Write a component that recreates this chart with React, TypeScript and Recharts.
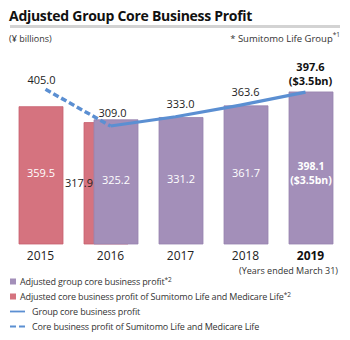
import React from 'react';
import { ComposedChart, Bar, Line, XAxis, YAxis, LabelList, Legend } from 'recharts';

const years = ['2015', '2016', '2017', '2018', '2019'];
const adjustedGroup = [null, 325.2, 331.2, 361.7, 398.1];
const adjustedSLM = [359.5, 317.9, null, null, null];
const groupCore = [null, 309.0, 333.0, 363.6, 397.6];
const coreSLM = [405.0, 309.0, null, null, null];
const adjustedGroupUsd = [null, null, null, null, '($3.5bn)'];
const groupCoreUsd = [null, null, null, null, '($3.5bn)'];
const highlightYear = '2019';

const title = 'Adjusted Group Core Business Profit';
const unitNote = '(¥ billions)';
const groupNote = '* Sumitomo Life Group';
const groupNoteSup = '*1';
const yearNote = '(Years ended March 31)';
const legendItems = [
  { label: 'Adjusted group core business profit', sup: '*2', kind: 'square', key: 'adjustedGroup' },
  { label: 'Adjusted core business profit of Sumitomo Life and Medicare Life', sup: '*2', kind: 'square', key: 'adjustedSLM' },
  { label: 'Group core business profit', sup: '', kind: 'line', key: 'groupCore' },
  { label: 'Core business profit of Sumitomo Life and Medicare Life', sup: '', kind: 'dash', key: 'coreSLM' },
];

const data = years.map((y, i) => ({
  year: y,
  adjustedGroup: adjustedGroup[i],
  adjustedSLM: adjustedSLM[i],
  groupCore: groupCore[i],
  coreSLM: coreSLM[i],
}));

const RED = '#d5737f';
const RED_EDGE = '#c8606e';
const PURPLE = '#a38fb9';
const PURPLE_EDGE = '#9883ae';
const BLUE = '#5b8fd2';
const FONT = '"Open Sans", sans-serif';
const TEXT = '#222';

const visualShift = (i: number) => (adjustedGroup[i] == null ? -5 : adjustedSLM[i] == null ? 5 : 0);

const YearTick = (props: any) => {
  const { x, y, payload } = props;
  const i = years.indexOf(payload.value);
  const bold = payload.value === highlightYear;
  return (
    <text x={x + visualShift(i)} y={y} dy={8} textAnchor="middle" fontFamily={FONT} fontSize={12}
      fontWeight={bold ? 700 : 400} fill={bold ? '#111' : TEXT}>
      {payload.value}
    </text>
  );
};

const RedLabel = (props: any) => {
  const { x, y, width, height, value } = props;
  if (value == null) return null;
  const i = adjustedSLM.indexOf(value);
  const cy = y + height / 2;
  if (adjustedGroup[i] != null) {
    return (
      <text x={x + 9} y={cy} dy={4} textAnchor="end" fontFamily={FONT} fontSize={11} fill={TEXT}>
        {value.toFixed(1)}
      </text>
    );
  }
  return (
    <text x={x + width / 2} y={cy} dy={2} textAnchor="middle" fontFamily={FONT} fontSize={11} fill="#fff">
      {value.toFixed(1)}
    </text>
  );
};

const PurpleLabel = (props: any) => {
  const { x, y, width, height, value } = props;
  if (value == null) return null;
  const i = adjustedGroup.indexOf(value);
  const cx = x + width / 2;
  const cy = y + height / 2;
  const usd = adjustedGroupUsd[i];
  if (usd) {
    return (
      <g>
        <text x={cx} y={cy + 2} textAnchor="middle" fontFamily={FONT} fontSize={10.5} fill="#fff" fontWeight={700}>
          {value.toFixed(1)}
        </text>
        <text x={cx} y={cy + 16} textAnchor="middle" fontFamily={FONT} fontSize={10.5} fill="#fff" fontWeight={700}>
          {usd}
        </text>
      </g>
    );
  }
  return (
    <text x={cx} y={cy} dy={2} textAnchor="middle" fontFamily={FONT} fontSize={11} fill="#fff">
      {value.toFixed(1)}
    </text>
  );
};

const DashLabel = (props: any) => {
  const { x, y, value } = props;
  if (value == null) return null;
  const i = coreSLM.indexOf(value);
  if (groupCore[i] != null) return null;
  return (
    <text x={x - 4} y={y - 5} textAnchor="middle" fontFamily={FONT} fontSize={11} fill={TEXT}>
      {value.toFixed(1)}
    </text>
  );
};

const SolidLabel = (props: any) => {
  const { x, y, value } = props;
  if (value == null) return null;
  const i = groupCore.indexOf(value);
  const cx = x + (adjustedSLM[i] != null ? 2 : 5);
  const usd = groupCoreUsd[i];
  if (usd) {
    return (
      <text textAnchor="middle" fontFamily={FONT} fontSize={11} fill="#111" fontWeight={700}>
        <tspan x={cx} y={y - 21}>{value.toFixed(1)}</tspan>
        <tspan x={cx} y={y - 7}>{usd}</tspan>
      </text>
    );
  }
  return (
    <text x={cx} y={y - 9} textAnchor="middle" fontFamily={FONT} fontSize={11} fill={TEXT}>
      {value.toFixed(1)}
    </text>
  );
};

const supStyle: React.CSSProperties = { fontSize: 6.5, verticalAlign: 'top', position: 'relative', top: -2, letterSpacing: 0 };

const LegendContent = () => (
  <div style={{ fontFamily: FONT, fontSize: 9, letterSpacing: -0.15, color: '#333', lineHeight: '15px' }}>
    {legendItems.map((it) => {
      const color = it.key === 'adjustedGroup' ? PURPLE : it.key === 'adjustedSLM' ? RED : BLUE;
      return (
        <div key={it.key} style={{ display: 'flex', alignItems: 'center', height: 15, whiteSpace: 'nowrap' }}>
          {it.kind === 'square' ? (
            <svg width={10} height={15} style={{ flex: 'none' }}>
              <rect x={0} y={4.5} width={6} height={6} fill={color} />
            </svg>
          ) : (
            <svg width={22} height={15} style={{ flex: 'none' }}>
              <line x1={0} x2={15} y1={7.5} y2={7.5} stroke={color} strokeWidth={1.8}
                strokeDasharray={it.kind === 'dash' ? '6 3' : undefined} />
            </svg>
          )}
          <span>
            {it.label}
            {it.sup && <sup style={supStyle}>{it.sup}</sup>}
          </span>
        </div>
      );
    })}
  </div>
);

export default function App() {
  return (
    <div style={{ position: 'absolute', left: 0, top: 0, width: 350, height: 340, background: '#fff', overflow: 'hidden' }}>
      <div style={{ position: 'absolute', left: 9, top: 6, fontFamily: FONT, fontWeight: 700, fontSize: 14, letterSpacing: -0.28, color: '#111', whiteSpace: 'nowrap' }}>
        {title}
      </div>
      <div style={{ position: 'absolute', left: 10, top: 25, width: 330, height: 3, background: '#d3d3d3' }} />
      <div style={{ position: 'absolute', left: 9, top: 32, fontFamily: FONT, fontSize: 9, color: '#333' }}>{unitNote}</div>
      <div style={{ position: 'absolute', right: 10, top: 32, fontFamily: FONT, fontSize: 9.5, color: '#333', whiteSpace: 'nowrap' }}>
        {groupNote}
        <sup style={supStyle}>{groupNoteSup}</sup>
      </div>
      <div style={{ position: 'absolute', right: 12, top: 264, fontFamily: FONT, fontSize: 9, color: '#333', whiteSpace: 'nowrap' }}>
        {yearNote}
      </div>
      <ComposedChart width={350} height={340} data={data} barGap={-34} barSize={44}
        margin={{ top: 53, right: 12, bottom: 76, left: 13 }}>
        <XAxis dataKey="year" height={20} axisLine={false} tickLine={false} tick={<YearTick />} interval={0} />
        <YAxis hide domain={[0, 500]} />
        <Bar dataKey="adjustedSLM" fill={RED} stroke={RED_EDGE} strokeWidth={0.8} isAnimationActive={false}>
          <LabelList dataKey="adjustedSLM" content={<RedLabel />} />
        </Bar>
        <Bar dataKey="adjustedGroup" fill={PURPLE} stroke={PURPLE_EDGE} strokeWidth={0.8} isAnimationActive={false}>
          <LabelList dataKey="adjustedGroup" content={<PurpleLabel />} />
        </Bar>
        <Line dataKey="coreSLM" stroke={BLUE} strokeWidth={3.5} strokeDasharray="6 3" dot={false} isAnimationActive={false}>
          <LabelList dataKey="coreSLM" content={<DashLabel />} />
        </Line>
        <Line dataKey="groupCore" stroke={BLUE} strokeWidth={3.2} dot={false} isAnimationActive={false}>
          <LabelList dataKey="groupCore" content={<SolidLabel />} />
        </Line>
        <Legend layout="horizontal" verticalAlign="middle" align="center" content={<LegendContent />}
          wrapperStyle={{ position: 'absolute', left: 10, top: 274, width: 340, height: 62 }} />
      </ComposedChart>
    </div>
  );
}
